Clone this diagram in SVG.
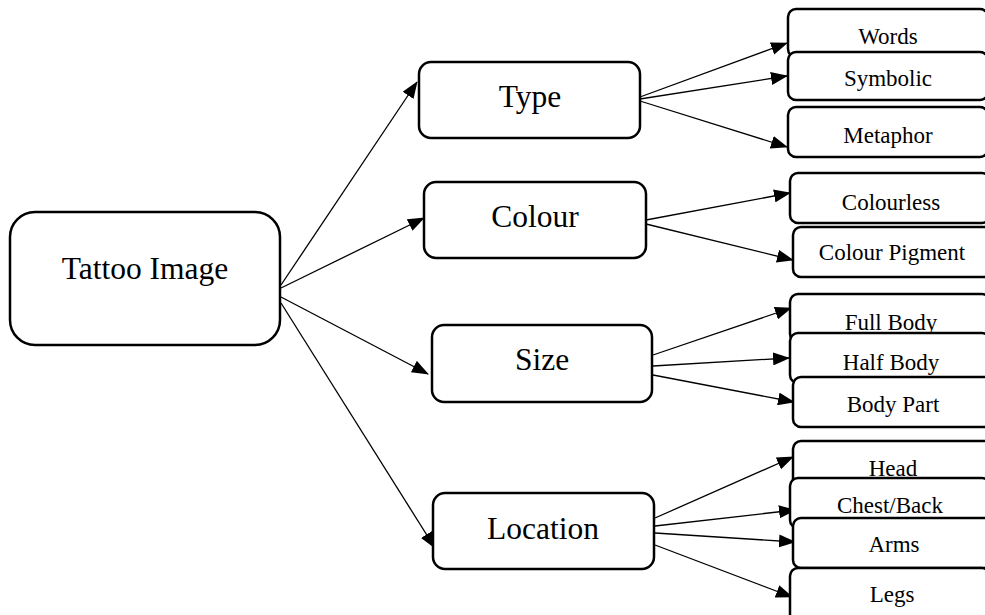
<svg xmlns="http://www.w3.org/2000/svg" width="985" height="615" viewBox="0 0 985 615">
  <style>
    .box { fill: #fff; stroke: #000; stroke-width: 2.5; }
    .main { font-size: 31.5px; fill: #000; text-anchor: middle; }
    .leaf { font-size: 23px; fill: #000; text-anchor: middle; }
    .link { fill: none; stroke: #000; stroke-width: 1.3; marker-end: url(#arrow); }
  </style>
  <defs>
    <marker id="arrow" markerUnits="userSpaceOnUse" markerWidth="17" markerHeight="13" refX="16" refY="6.5" orient="auto">
      <path d="M0,0 L17,6.5 L0,13 Z" fill="#000"/>
    </marker>
  </defs>
  <rect width="985" height="615" fill="#fff"/>

  <!-- connectors -->
  <g id="connectors">
    <line class="link" x1="281" y1="285" x2="417" y2="82"/>
    <line class="link" x1="281" y1="288" x2="424" y2="218"/>
    <line class="link" x1="281" y1="297" x2="428" y2="374"/>
    <line class="link" x1="281" y1="303" x2="435" y2="548"/>

    <line class="link" x1="640" y1="97" x2="787" y2="43"/>
    <line class="link" x1="640" y1="99" x2="787" y2="76"/>
    <line class="link" x1="640" y1="101" x2="787" y2="147"/>

    <line class="link" x1="646" y1="220" x2="790" y2="193"/>
    <line class="link" x1="646" y1="224" x2="793" y2="260"/>

    <line class="link" x1="653" y1="355" x2="791" y2="308"/>
    <line class="link" x1="653" y1="366" x2="789" y2="358"/>
    <line class="link" x1="653" y1="375" x2="794" y2="402"/>

    <line class="link" x1="655" y1="518" x2="793" y2="457"/>
    <line class="link" x1="655" y1="526" x2="795" y2="510"/>
    <line class="link" x1="655" y1="533" x2="795" y2="542"/>
    <line class="link" x1="655" y1="545" x2="792" y2="597"/>
  </g>

  <g id="nodes" font-family="'Liberation Serif', 'Times New Roman', 'DejaVu Serif', serif">
    <!-- root -->
    <g id="tattoo-image">
      <rect class="box" x="10" y="212" width="270" height="133" rx="25"/>
      <text class="main" x="145" y="279">Tattoo Image</text>
    </g>

    <!-- categories -->
    <g id="type">
      <rect class="box" x="419" y="62" width="221" height="76" rx="12"/>
      <text class="main" x="530" y="107">Type</text>
    </g>
    <g id="colour">
      <rect class="box" x="424" y="182" width="222" height="76" rx="12"/>
      <text class="main" x="535" y="227">Colour</text>
    </g>
    <g id="size">
      <rect class="box" x="432" y="325" width="220" height="77" rx="12"/>
      <text class="main" x="542" y="370">Size</text>
    </g>
    <g id="location">
      <rect class="box" x="433" y="493" width="221" height="76" rx="12"/>
      <text class="main" x="543" y="539">Location</text>
    </g>

    <!-- type leaves -->
    <g id="words">
      <rect class="box" x="788" y="9" width="200" height="48" rx="8"/>
      <text class="leaf" x="888" y="44">Words</text>
    </g>
    <g id="symbolic">
      <rect class="box" x="788" y="52" width="200" height="48" rx="8"/>
      <text class="leaf" x="888" y="86">Symbolic</text>
    </g>
    <g id="metaphor">
      <rect class="box" x="788" y="107" width="200" height="50" rx="8"/>
      <text class="leaf" x="888" y="143">Metaphor</text>
    </g>

    <!-- colour leaves -->
    <g id="colourless">
      <rect class="box" x="790" y="173" width="200" height="50" rx="8"/>
      <text class="leaf" x="891" y="210">Colourless</text>
    </g>
    <g id="colour-pigment">
      <rect class="box" x="793" y="227" width="200" height="50" rx="8"/>
      <text class="leaf" x="892" y="260">Colour Pigment</text>
    </g>

    <!-- size leaves -->
    <g id="full-body">
      <rect class="box" x="790" y="294" width="200" height="48" rx="8"/>
      <text class="leaf" x="891" y="330">Full Body</text>
    </g>
    <g id="half-body">
      <rect class="box" x="790" y="333" width="200" height="50" rx="8"/>
      <text class="leaf" x="891" y="370">Half Body</text>
    </g>
    <g id="body-part">
      <rect class="box" x="793" y="377" width="200" height="50" rx="8"/>
      <text class="leaf" x="893" y="412">Body Part</text>
    </g>

    <!-- location leaves -->
    <g id="head">
      <rect class="box" x="793" y="441" width="200" height="46" rx="8"/>
      <text class="leaf" x="893" y="476">Head</text>
    </g>
    <g id="chest-back">
      <rect class="box" x="790" y="478" width="200" height="50" rx="8"/>
      <text class="leaf" x="890" y="513">Chest/Back</text>
    </g>
    <g id="arms">
      <rect class="box" x="793" y="518" width="200" height="50" rx="8"/>
      <text class="leaf" x="894" y="552">Arms</text>
    </g>
    <g id="legs">
      <rect class="box" x="790" y="568" width="200" height="60" rx="8"/>
      <text class="leaf" x="892" y="602">Legs</text>
    </g>
  </g>
</svg>
